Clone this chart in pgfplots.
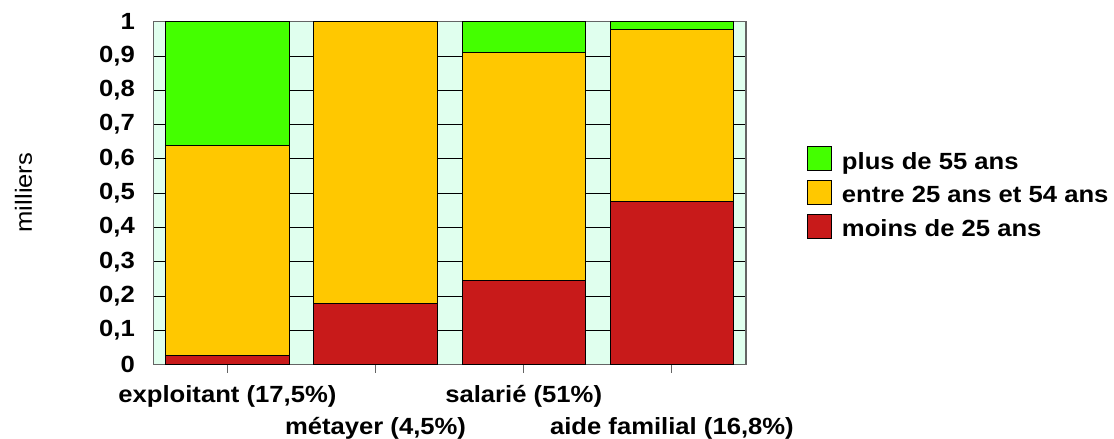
\documentclass[border=0pt]{standalone}
\usepackage{pgfplots}
\pgfplotsset{compat=1.18}
\usepackage{fontspec}
\setmainfont{Liberation Sans}[FakeStretch=1.095]
\definecolor{cgreen}{RGB}{68,255,0}
\definecolor{corange}{RGB}{255,200,0}
\definecolor{cred}{RGB}{200,26,26}
\definecolor{cbg}{RGB}{224,255,238}
\definecolor{cframe}{RGB}{100,100,100}
\begin{document}
\begin{tikzpicture}
\begin{axis}[
  at={(0,0)}, anchor=south west,
  scale only axis, width=592.7bp, height=343bp,
  xmin=-0.5, xmax=3.5, ymin=0, ymax=1,
  ybar stacked, bar width=0.833,
  axis background/.style={fill=cbg},
  axis line style={draw=cframe, line width=1.5bp},
  ymajorgrids, grid style={black, line width=0.8bp},
  ytick={0,0.1,0.2,0.3,0.4,0.5,0.6,0.7,0.8,0.9,1},
  yticklabels={0,{0,1},{0,2},{0,3},{0,4},{0,5},{0,6},{0,7},{0,8},{0,9},1},
  ytick style={draw=none},
  yticklabel style={xshift=-7bp},
  xtick={0,2},
  xticklabels={{exploitant (17,5\%)}, {salarié (51\%)}},
  extra x ticks={1,3},
  extra x tick labels={{métayer (4,5\%)}, {aide familial (16,8\%)}},
  extra x tick style={xmajorgrids=false, xticklabel style={yshift=-32bp}},
  xtick pos=bottom, tick align=outside, major tick length=8bp,
  xtick style={draw=cframe, line width=1bp},
  xticklabel style={yshift=-9bp},
  ticklabel style={font=\fontsize{23.5}{27}\selectfont\bfseries, text=black},
  reverse legend,
  legend cell align=left,
  legend style={at={(axis description cs:1,0.5)}, anchor=west, xshift=58bp,
    draw=none, fill=none, font=\fontsize{23.5}{27}\selectfont\bfseries,
    row sep=7.5bp, nodes={inner sep=2bp},
    /tikz/every odd column/.append style={column sep=8bp}},
  legend image code/.code={\draw[#1,draw=black,line width=0.8bp] (0bp,-9bp) rectangle (24bp,15bp);},
]
\addplot[fill=cred, draw=black, line width=0.8bp] coordinates {(0,0.028) (1,0.178) (2,0.246) (3,0.477)};
\addplot[fill=corange, draw=black, line width=0.8bp] coordinates {(0,0.611) (1,0.822) (2,0.665) (3,0.501)};
\addplot[fill=cgreen, draw=black, line width=0.8bp] coordinates {(0,0.361) (1,0) (2,0.089) (3,0.022)};
\legend{moins de 25 ans, entre 25 ans et 54 ans, plus de 55 ans}
\end{axis}
\node[rotate=90, font=\fontsize{23.5}{27}\selectfont] at (-129.8bp,172.2bp) {milliers};
\pgfresetboundingbox
\path[use as bounding box] (-153.3bp,-74.3bp) rectangle (960.7bp,364.7bp);
\end{tikzpicture}
\end{document}
